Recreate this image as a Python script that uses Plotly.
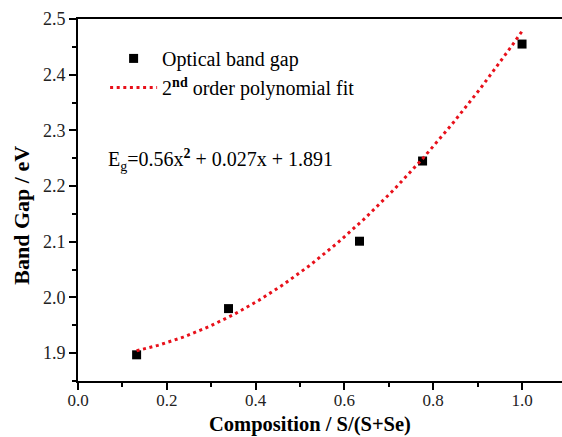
import numpy as np
import plotly.graph_objects as go

# Measured optical band gap vs. sulfur fraction
composition = [0.132, 0.339, 0.634, 0.776, 1.0]
band_gap = [1.897, 1.980, 2.101, 2.245, 2.455]

# Second-order polynomial fit coefficients (a*x^2 + b*x + c)
fit_coeffs = [0.56, 0.027, 1.891]

x_fit = np.linspace(min(composition), max(composition), 200)
y_fit = np.polyval(fit_coeffs, x_fit)

serif = "Liberation Serif"

fig = go.Figure()

fig.add_trace(go.Scatter(
    x=composition, y=band_gap, mode="markers",
    name="Optical band gap",
    marker=dict(symbol="square", size=9, color="black"),
    legendgroup="a",
))
fig.add_trace(go.Scatter(
    x=x_fit, y=y_fit, mode="lines",
    name="2<sup><b>nd</b></sup> order polynomial fit",
    line=dict(color="#e8101a", width=3, dash="3px,3.6px"),
    legendgroup="b",
))

fig.add_annotation(
    x=0.062, y=2.246, xref="x", yref="y", xanchor="left", yanchor="middle",
    text="E<sub>g</sub>=0.56x<sup><b>2</b></sup> + 0.027x + 1.891",
    showarrow=False, font=dict(family=serif, size=20, color="black"),
)

# Axis titles
fig.add_annotation(
    x=0.479, y=-0.121, xref="paper", yref="paper", xanchor="center", yanchor="middle",
    text="<b>Composition / S/(S+Se)</b>", showarrow=False, borderpad=0,
    font=dict(family=serif, size=20.5, color="black"),
)
fig.add_annotation(
    x=-0.116, y=0.459, xref="paper", yref="paper", xanchor="center", yanchor="middle",
    text="<b>Band Gap / eV</b>", showarrow=False, textangle=-90, borderpad=0,
    font=dict(family=serif, size=22, color="black"),
)

axis_common = dict(
    showgrid=False, zeroline=False, showline=True, linewidth=2, linecolor="black",
    ticks="outside", ticklen=7, tickwidth=2, tickcolor="black",
    tickfont=dict(family=serif, size=18, color="#222"),
    tickformat=".1f",
)

fig.update_xaxes(
    **axis_common, range=[0, 1.09], dtick=0.2, tick0=0,
    mirror=True, ticklabelstandoff=-4,
    minor=dict(dtick=0.1, ticks="outside", ticklen=4, tickwidth=2, tickcolor="black"),
)
fig.update_xaxes(tickfont=dict(family=serif, size=17, color="#222"))
fig.update_yaxes(
    **axis_common, range=[1.85, 2.5], dtick=0.1, tick0=1.9,
    mirror=False,
    minor=dict(dtick=0.05, ticks="outside", ticklen=4, tickwidth=2, tickcolor="black"),
)

fig.update_layout(
    width=562, height=437,
    margin=dict(l=78, r=0, t=19, b=56),
    plot_bgcolor="white", paper_bgcolor="white",
    showlegend=True,
    legend=dict(
        x=0.056, y=0.945, xanchor="left", yanchor="top",
        bgcolor="rgba(0,0,0,0)", traceorder="grouped", tracegroupgap=0,
        itemwidth=47,
        font=dict(family=serif, size=20, color="black"),
    ),
)

fig.write_html("out.html")
